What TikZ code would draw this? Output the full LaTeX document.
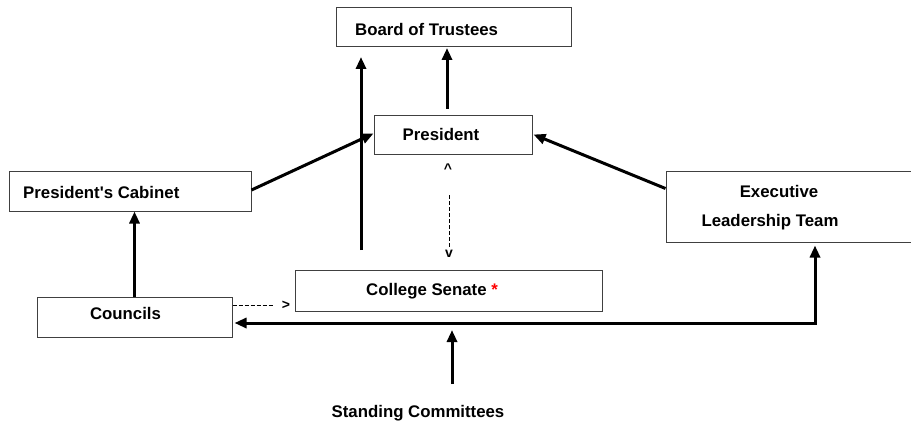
\documentclass[tikz,border=0pt]{standalone}
\usepackage{fontspec}
\setmainfont{Liberation Sans}
\usetikzlibrary{arrows.meta,calc}
\tikzset{
  box/.style={draw=black!75, line width=1pt, rectangle, inner sep=0pt},
  lbl/.style={font=\fontsize{16.8}{18}\selectfont\bfseries, inner sep=0pt},
  thick arrow/.style={line width=3pt, -{Triangle[length=12pt,width=10pt]}},
  dbl arrow/.style={line width=3pt, {Triangle[length=12pt,width=10pt]}-{Triangle[length=12pt,width=10pt]}},
  thin dash/.style={line width=1pt, dash pattern=on 4pt off 2pt},
  sym/.style={font=\fontsize{14}{15}\selectfont\bfseries, inner sep=0pt}
}
\begin{document}
\begin{tikzpicture}[x=1pt,y=-1pt]
\useasboundingbox (0,0) rectangle (911,428);
% boxes
\node[box, minimum width=235pt, minimum height=39pt] (bot) at (453.5,27.5) {};
\node[box, minimum width=158pt, minimum height=39pt] (pres) at (453,134.5) {};
\node[box, minimum width=242pt, minimum height=40pt] (cab) at (130,191) {};
\node[box, minimum width=249pt, minimum height=71pt] (exec) at (790.5,206.5) {};
\node[box, minimum width=307pt, minimum height=41pt] (sen) at (448.5,290.5) {};
\node[box, minimum width=195pt, minimum height=40pt] (cou) at (134.5,317) {};
% labels
\node[lbl, anchor=west] (botl) at (355,29) {Board of Trustees};
\node[lbl] (presl) at (441,134) {President};
\node[lbl, anchor=west] (cabl) at (23,192) {President\textquotesingle s Cabinet};
\node[lbl] (execl1) at (779,191) {Executive};
\node[lbl] (execl2) at (770,222) {Leadership Team};
\node[lbl, anchor=west] (senl) at (366,291) {College Senate \textcolor{red}{*}};
\node[lbl] (coul) at (125.5,313) {Councils};
\node[lbl] (scl) at (418,413) {Standing Committees};
% free ends
\coordinate (p1) at (447,109);
\coordinate (p2) at (447,48);
\coordinate (s1) at (361,250);
\coordinate (s2) at (361,57);
\coordinate (st1) at (452,384);
\coordinate (st2) at (452,330);
\coordinate (d1) at (274,305);
\coordinate (v1) at (449,195);
\coordinate (v2) at (449,247);
% thick connectors
\draw[thick arrow] (p1) -- (p2);
\draw[thick arrow] (s1) -- (s2);
\draw[thick arrow] ([yshift=1pt]cab.east) -- ([yshift=1pt]pres.west);
\draw[thick arrow] ([yshift=18pt]exec.west) -- ([xshift=1pt]pres.east);
\draw[thick arrow] (cou.north) -- (cou.north |- cab.south);
\draw[dbl arrow] ([xshift=2pt,yshift=-6pt]cou.east) -| ([xshift=24.5pt,yshift=-3pt]exec.south);
\draw[thick arrow] (st1) -- (st2);
% dashed connectors
\draw[thin dash] ([yshift=12pt]cou.east) -- (d1);
\node[sym] (gt) at (286,305) {>};
\draw[thin dash] (v1) -- (v2);
\node[sym] (up) at (448,169) {\textasciicircum};
\node[sym] (dn) at (449,254) {v};
\end{tikzpicture}
\end{document}
